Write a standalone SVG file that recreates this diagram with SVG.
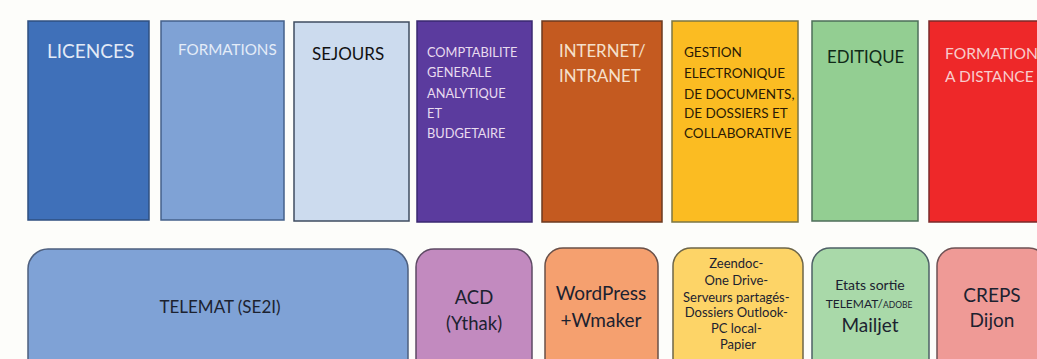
<svg xmlns="http://www.w3.org/2000/svg" width="1037" height="359" viewBox="0 0 1037 359">
  <style>
    .col { stroke-width: 1.5; }
    .app { stroke-width: 1.5; }
    text { font-family: Lato, "Open Sans", "Liberation Sans", sans-serif; }
    .ap { fill: #1c2230; text-anchor: middle; }
  </style>
  <rect width="1037" height="359" fill="#fdfdfa"/>

  <!-- domain columns -->
  <g id="licences">
    <rect class="col" x="28" y="21" width="121" height="199" fill="#3f70b9" stroke="#2f4f80"/>
    <text x="47" y="58" fill="#e2eaf6" font-size="19">LICENCES</text>
  </g>
  <g id="formations">
    <rect class="col" x="161" y="21" width="123" height="199" fill="#7fa2d5" stroke="#44608a"/>
    <text x="178" y="55" fill="#e4ecf8" font-size="15.2">FORMATIONS</text>
  </g>
  <g id="sejours">
    <rect class="col" x="294" y="22" width="115" height="199" fill="#ccdbee" stroke="#3f4c60"/>
    <text x="312" y="60" fill="#111" font-size="17">SEJOURS</text>
  </g>
  <g id="comptabilite">
    <rect class="col" x="417" y="21" width="115" height="201" fill="#5b3b9e" stroke="#3a2870"/>
    <text x="427" fill="#e9dcef" font-size="12.8">
      <tspan x="427" y="57">COMPTABILITE</tspan>
      <tspan x="427" y="77">GENERALE</tspan>
      <tspan x="427" y="98">ANALYTIQUE</tspan>
      <tspan x="427" y="118">ET</tspan>
      <tspan x="427" y="138">BUDGETAIRE</tspan>
    </text>
  </g>
  <g id="internet">
    <rect class="col" x="542" y="21" width="120" height="201" fill="#c45a20" stroke="#6b3a20"/>
    <text x="559" fill="#f5e0cc" font-size="16.8">
      <tspan x="559" y="57">INTERNET/</tspan>
      <tspan x="559" y="82">INTRANET</tspan>
    </text>
  </g>
  <g id="ged">
    <rect class="col" x="672" y="21" width="126" height="201" fill="#fbbc22" stroke="#7b7644"/>
    <text x="684" fill="#2a1a05" font-size="13.5">
      <tspan x="684" y="57">GESTION</tspan>
      <tspan x="684" y="78">ELECTRONIQUE</tspan>
      <tspan x="684" y="99">DE DOCUMENTS,</tspan>
      <tspan x="684" y="118">DE DOSSIERS ET</tspan>
      <tspan x="684" y="138">COLLABORATIVE</tspan>
    </text>
  </g>
  <g id="editique">
    <rect class="col" x="812" y="21" width="106" height="200" fill="#93ce92" stroke="#4e6e5a"/>
    <text x="827" y="63" fill="#102a18" font-size="16.8">EDITIQUE</text>
  </g>
  <g id="fad">
    <rect class="col" x="929" y="21" width="112" height="201" fill="#ee2829" stroke="#7a2a2a"/>
    <text x="945" fill="#f8cccc" font-size="15.6">
      <tspan x="945" y="59">FORMATION</tspan>
      <tspan x="945" y="82">A DISTANCE</tspan>
    </text>
  </g>

  <!-- applications -->
  <g id="telemat">
    <rect class="app" x="28" y="249" width="380" height="130" rx="20" fill="#7fa2d6" stroke="#4d5f7e"/>
    <text class="ap" x="220" y="313" font-size="17">TELEMAT (SE2I)</text>
  </g>
  <g id="acd">
    <rect class="app" x="416" y="249" width="116" height="130" rx="18" fill="#c28abf" stroke="#5e4a64"/>
    <text class="ap" x="474" y="304" font-size="18.5">ACD</text>
    <text class="ap" x="474" y="330" font-size="18.5">(Ythak)</text>
  </g>
  <g id="wordpress">
    <rect class="app" x="545" y="248" width="113" height="131" rx="18" fill="#f5a06f" stroke="#6a5048"/>
    <text class="ap" x="601" y="300" font-size="19">WordPress</text>
    <text class="ap" x="601" y="327" font-size="19">+Wmaker</text>
  </g>
  <g id="zeendoc">
    <rect class="app" x="673" y="248" width="130" height="131" rx="18" fill="#fdd467" stroke="#6e6648"/>
    <text class="ap" x="738" font-size="13">
      <tspan x="738" y="268">Zeendoc-</tspan>
      <tspan x="738" y="285">One Drive-</tspan>
      <tspan x="738" y="302">Serveurs partagés-</tspan>
      <tspan x="738" y="317">Dossiers Outlook-</tspan>
      <tspan x="738" y="333">PC local-</tspan>
      <tspan x="738" y="349">Papier</tspan>
    </text>
  </g>
  <g id="etats">
    <rect class="app" x="812" y="248" width="117" height="131" rx="18" fill="#a9d9a9" stroke="#4e6066"/>
    <text class="ap" x="870" y="290" font-size="14">Etats sortie</text>
    <text class="ap" x="869" y="308" font-size="12">TELEMAT/<tspan font-size="8.5">ADOBE</tspan></text>
    <text class="ap" x="870" y="332" font-size="19">Mailjet</text>
  </g>
  <g id="creps">
    <rect class="app" x="937" y="248" width="110" height="131" rx="18" fill="#ef9a96" stroke="#6e5254"/>
    <text class="ap" x="992" y="302" font-size="19">CREPS</text>
    <text class="ap" x="992" y="327" font-size="19">Dijon</text>
  </g>

  <g id="connectors"></g>
</svg>
